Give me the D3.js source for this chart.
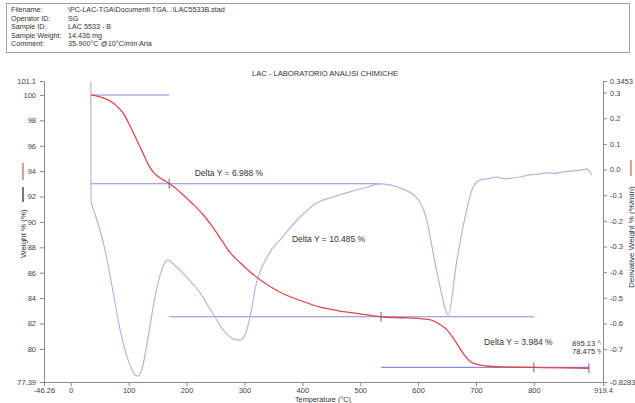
<!DOCTYPE html>
<html>
<head>
<meta charset="utf-8">
<script src="https://cdn.jsdelivr.net/npm/d3@7/dist/d3.min.js"></script>
<style>
  html, body { margin: 0; padding: 0; background: #fff; }
  svg { display: block; font-family: "Liberation Sans", Arial, sans-serif; }
</style>
</head>
<body>
<svg id="chart" width="635" height="403"></svg>
<script>
// Sample header fields
const headerKeys = ["Filename:", "Operator ID:", "Sample ID:", "Sample Weight:", "Comment:"];
const headerVals = ["\\PC-LAC-TGA\\Documenti TGA...\\LAC5533B.stad", "SG", "LAC 5533 - B", "14.436 mg", "35-900°C @10°C/min Aria"];

// Axis ticks
const tempTicks = [-46.26, 0, 100, 200, 300, 400, 500, 600, 700, 800, 919.4];
const weightTicks = [77.39, 80, 82, 84, 86, 88, 90, 92, 94, 96, 98, 100, 101.1];
const derivTicks = [-0.8283, -0.7, -0.6, -0.5, -0.4, -0.3, -0.2, -0.1, 0, 0.1, 0.2, 0.3, 0.3453];
const derivTickLabels = ["-0.8283", "-0.7", "-0.6", "-0.5", "-0.4", "-0.3", "-0.2", "-0.1", "0.0", "0.1", "0.2", "0.3", "0.3453"];

// TGA weight curve (°C, %)
const weightTemp = [35, 50, 67, 80, 90, 102, 114, 125, 136, 145, 153, 162, 171, 190, 210, 228, 245, 260, 275, 292, 309, 330, 360, 400, 430, 465, 500, 536, 570, 600, 620, 635, 650, 660, 670, 680, 690, 700, 720, 750, 800, 850, 895];
const weightPct  = [100, 99.85, 99.55, 99.1, 98.6, 97.6, 96.45, 95.4, 94.35, 93.8, 93.5, 93.25, 93.0, 92.3, 91.45, 90.6, 89.6, 88.6, 87.6, 86.8, 86.1, 85.35, 84.5, 83.75, 83.3, 82.98, 82.76, 82.53, 82.45, 82.4, 82.3, 82.0, 81.5, 80.9, 80.2, 79.5, 79.0, 78.8, 78.65, 78.58, 78.54, 78.5, 78.475];

// DTG curve (°C, %/min)
const derivTemp = [34.6, 34.9, 39.8, 48.4, 58.8, 70.9, 84.7, 100.2, 110.6, 115.3, 122.7, 133.1, 145.2, 157.3, 167.6, 178, 200.5, 223, 245, 265, 280, 292, 302, 310, 320, 339, 366, 396, 425, 453, 482, 512, 534, 569, 598, 615, 626, 638, 646, 652, 667, 684, 695, 707, 722, 736, 750, 764, 778, 793, 808, 823, 836, 850, 865, 880, 892, 900];
const derivVal  = [0.34, -0.12, -0.16, -0.22, -0.31, -0.45, -0.62, -0.75, -0.80, -0.805, -0.78, -0.66, -0.50, -0.39, -0.352, -0.37, -0.42, -0.48, -0.56, -0.63, -0.66, -0.665, -0.64, -0.57, -0.45, -0.341, -0.263, -0.185, -0.130, -0.107, -0.087, -0.068, -0.056, -0.072, -0.111, -0.197, -0.325, -0.458, -0.536, -0.567, -0.352, -0.157, -0.068, -0.041, -0.035, -0.029, -0.036, -0.033, -0.028, -0.021, -0.018, -0.013, -0.015, -0.009, -0.006, -0.002, 0.002, -0.021];

// Step transitions: [left temp, right temp, weight]
const stepLineT0 = [35, 35, 170, 536];
const stepLineT1 = [170, 536, 800, 895];
const stepLineW  = [100, 93.012, 82.527, 78.543];
// Markers on the weight curve
const markerT = [170, 536, 800, 895];
const markerW = [93.012, 82.527, 78.543, 78.475];
// Step labels
const deltaLabels = ["Delta Y = 6.988 %", "Delta Y = 10.485 %", "Delta Y = 3.984 %"];
const deltaT = [214, 382, 714];
const deltaW = [93.6, 88.4, 80.3];
const endLabelLines = ["895.13 °C", "78.475 %"];

const svg = d3.select("#chart");
const plotL = 44, plotR = 603, plotT = 81, plotB = 382;

const x = d3.scaleLinear().domain([-46.26, 919.4]).range([plotL, plotR]);
const yW = d3.scaleLinear().domain([77.39, 101.1]).range([plotB, plotT]);
const yD = d3.scaleLinear().domain([-0.8283, 0.3453]).range([plotB, plotT]);

// Header box
const hdr = svg.append("g");
hdr.append("rect").attr("x", 6.5).attr("y", 3.5).attr("width", 623).attr("height", 49)
  .attr("fill", "#fff").attr("stroke", "#a0a0a0").attr("stroke-width", 1);
headerKeys.forEach((k, i) => {
  hdr.append("text").attr("x", 11).attr("y", 12 + i * 8.6).attr("font-size", 7.2).attr("fill", "#333").text(k);
  hdr.append("text").attr("x", 68).attr("y", 12 + i * 8.6).attr("font-size", 7.2).attr("fill", "#333").text(headerVals[i]);
});

// Title
svg.append("text").attr("x", 325).attr("y", 76).attr("text-anchor", "middle")
  .attr("font-size", 7.6).attr("fill", "#333").text("LAC - LABORATORIO ANALISI CHIMICHE");

// Axes
function styleAxis(g) {
  g.selectAll("path, line").attr("stroke", "#8a8a8a").attr("stroke-width", 1);
  g.selectAll("text").attr("font-size", 7.5).attr("fill", "#444").attr("font-family", "Liberation Sans, Arial, sans-serif");
}
const gx = svg.append("g").attr("transform", `translate(0,${plotB})`)
  .call(d3.axisBottom(x).tickValues(tempTicks).tickSize(4).tickPadding(2).tickSizeOuter(0).tickFormat(d => String(d)));
styleAxis(gx);

const gyl = svg.append("g").attr("transform", `translate(${plotL},0)`)
  .call(d3.axisLeft(yW).tickValues(weightTicks).tickSize(4).tickPadding(4).tickSizeOuter(0).tickFormat(d => String(d)));
styleAxis(gyl);

const gyr = svg.append("g").attr("transform", `translate(${plotR},0)`)
  .call(d3.axisRight(yD).tickValues(derivTicks).tickSize(4).tickPadding(3).tickSizeOuter(0).tickFormat((d, i) => derivTickLabels[i]));
styleAxis(gyr);

// Axis titles
svg.append("text").attr("x", 323).attr("y", 402).attr("text-anchor", "middle")
  .attr("font-size", 7.3).attr("fill", "#333").text("Temperature (°C)");

const lt = svg.append("g").attr("transform", "translate(23,258) rotate(-90)");
lt.append("text").attr("x", 0).attr("y", 2.5).attr("font-size", 8).attr("fill", "#333").text("Weight % (%)");
lt.append("line").attr("x1", 56).attr("x2", 71).attr("y1", 0).attr("y2", 0).attr("stroke", "#222").attr("stroke-width", 1.2);
lt.append("line").attr("x1", 78).attr("x2", 95).attr("y1", 0).attr("y2", 0).attr("stroke", "#e05050").attr("stroke-width", 1.2);

const rt = svg.append("g").attr("transform", "translate(631,288) rotate(-90)");
rt.append("text").attr("x", 0).attr("y", 2.5).attr("font-size", 8).attr("fill", "#333").text("Derivative Weight % (%/min)");
rt.append("line").attr("x1", 112).attr("x2", 128).attr("y1", 0).attr("y2", 0).attr("stroke", "#e05050").attr("stroke-width", 1.2);

// Plot clip
svg.append("clipPath").attr("id", "plotClip").append("rect")
  .attr("x", plotL).attr("y", plotT).attr("width", plotR - plotL - 2).attr("height", plotB - plotT);
const plot = svg.append("g").attr("clip-path", "url(#plotClip)");

// Step lines
stepLineW.forEach((w, i) => {
  plot.append("line").attr("x1", x(stepLineT0[i])).attr("x2", x(stepLineT1[i]))
    .attr("y1", yW(w)).attr("y2", yW(w)).attr("stroke", "#8a8ae0").attr("stroke-width", 1.1);
});

// DTG curve
const derivLine = d3.line().x(i => x(derivTemp[i])).y(i => yD(derivVal[i])).curve(d3.curveMonotoneX);
plot.append("path").attr("d", derivLine(d3.range(derivTemp.length)))
  .attr("fill", "none").attr("stroke", "#b4b4e4").attr("stroke-width", 1.2);

// Weight curve
const weightLine = d3.line().x(i => x(weightTemp[i])).y(i => yW(weightPct[i])).curve(d3.curveMonotoneX);
plot.append("path").attr("d", weightLine(d3.range(weightTemp.length)))
  .attr("fill", "none").attr("stroke", "#e04848").attr("stroke-width", 1.3);

// Markers
markerT.forEach((t, i) => {
  plot.append("line").attr("x1", x(t)).attr("x2", x(t))
    .attr("y1", yW(markerW[i]) - 5).attr("y2", yW(markerW[i]) + 5)
    .attr("stroke", "#6060b0").attr("stroke-width", 1);
});

// Delta labels
deltaLabels.forEach((s, i) => {
  plot.append("text").attr("x", x(deltaT[i])).attr("y", yW(deltaW[i]))
    .attr("font-size", 8.5).attr("fill", "#333").text(s);
});
endLabelLines.forEach((s, i) => {
  plot.append("text").attr("x", 572).attr("y", 346 + i * 8)
    .attr("font-size", 7.6).attr("fill", "#333").text(s);
});
</script>
</body>
</html>
